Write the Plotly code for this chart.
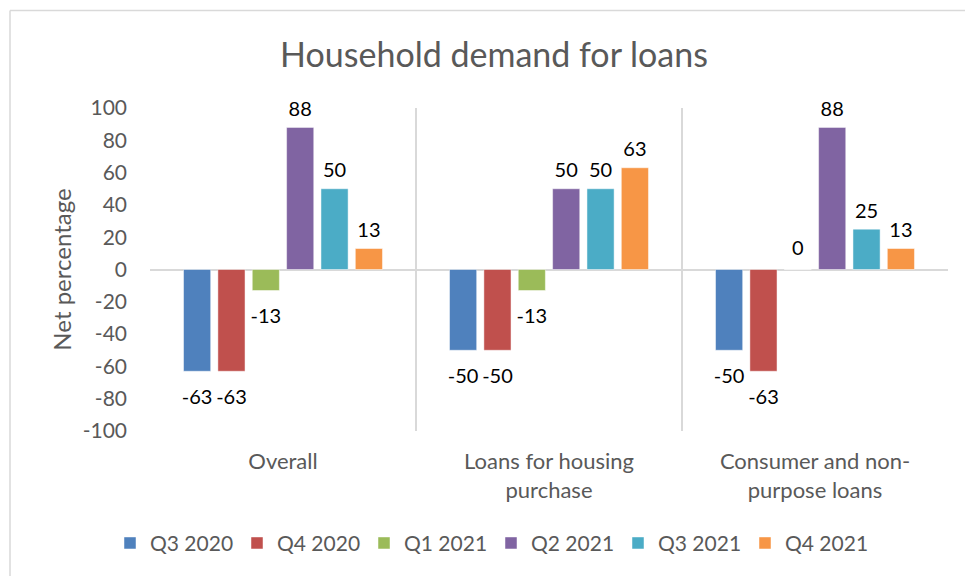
import plotly.graph_objects as go

# Loan categories and net percentages per quarter
categories = ["Overall", "Loans for housing<br>purchase", "Consumer and non-<br>purpose loans"]
quarters = ["Q3 2020", "Q4 2020", "Q1 2021", "Q2 2021", "Q3 2021", "Q4 2021"]
q3_2020 = [-63, -50, -50]
q4_2020 = [-63, -50, -63]
q1_2021 = [-13, -13, 0]
q2_2021 = [88, 50, 88]
q3_2021 = [50, 50, 25]
q4_2021 = [13, 63, 13]
y_ticks = [100, 80, 60, 40, 20, 0, -20, -40, -60, -80, -100]

series = [q3_2020, q4_2020, q1_2021, q2_2021, q3_2021, q4_2021]
colors = ["#4F81BD", "#C0504D", "#9BBB59", "#8064A2", "#4BACC6", "#F79646"]

FONT = "Lato"
GRAY = "#595959"
LINE = "#D9D9D9"
GAP = 0.225


def label_pad(v):
    # invisible marker size used to push the value label off the bar end
    if v < 0:
        return 27
    if v == 0:
        return 14
    return 9


fig = go.Figure()
for i, (name, vals, col) in enumerate(zip(quarters, series, colors)):
    fig.add_trace(go.Bar(
        x=categories, y=vals, name=name,
        offsetgroup=str(i), alignmentgroup="g",
        marker=dict(color=col, line=dict(color="rgba(255,255,255,0.6)", width=0.8)),
    ))
    # value labels, sitting a little away from the bar ends
    fig.add_trace(go.Scatter(
        x=categories, y=vals, mode="markers+text",
        offsetgroup=str(i), alignmentgroup="g",
        text=[str(v) for v in vals],
        textposition=["bottom center" if v < 0 else "top center" for v in vals],
        textfont=dict(family=FONT, size=20, color="#000000"),
        marker=dict(size=[label_pad(v) for v in vals], color="rgba(0,0,0,0)",
                    opacity=0, line=dict(width=0, color="rgba(0,0,0,0)")),
        showlegend=False, hoverinfo="skip", cliponaxis=False,
    ))

W, H = 965, 576
L, R, T, B = 150, 17, 108, 143
pw, ph = W - L - R, H - T - B


def px_x(p):
    return (p - L) / pw


def px_y(p):
    return (H - B - p) / ph


fig.update_layout(
    width=W, height=H,
    margin=dict(l=L, r=R, t=T, b=B),
    paper_bgcolor="white", plot_bgcolor="white",
    barmode="group", bargap=GAP, bargroupgap=0.21,
    scattermode="group", scattergap=GAP,
    font=dict(family=FONT, color=GRAY),
    title=dict(text="Household demand for loans", x=494 / W, xanchor="center",
               y=1 - 55 / H, yanchor="middle",
               font=dict(family=FONT, size=34, color=GRAY)),
    xaxis=dict(
        type="category", range=[-0.5, 2.5], tickson="boundaries",
        showgrid=True, gridcolor=LINE, gridwidth=2,
        ticks="", ticklen=0, showline=False, zeroline=False,
        ticklabelstandoff=15,
        tickfont=dict(family=FONT, size=22, color=GRAY),
    ),
    yaxis=dict(
        range=[-100, 100], tickvals=y_ticks, ticktext=[str(v) for v in y_ticks],
        showgrid=False, zeroline=True, zerolinecolor=LINE, zerolinewidth=2,
        showline=False, ticks="", ticklabelstandoff=22,
        tickfont=dict(family=FONT, size=21, color=GRAY),
        title=dict(text="Net percentage", standoff=4,
                   font=dict(family=FONT, size=24, color=GRAY)),
    ),
    legend=dict(
        orientation="h", x=px_x(491), xanchor="center", y=px_y(546), yanchor="middle",
        font=dict(family=FONT, size=21, color=GRAY),
        entrywidth=82, entrywidthmode="pixels", itemclick=False,
    ),
    showlegend=True,
    shapes=[
        dict(type="line", xref="paper", yref="paper", x0=px_x(10), x1=px_x(W + 5),
             y0=px_y(10), y1=px_y(10), line=dict(color=LINE, width=1.5)),
        dict(type="line", xref="paper", yref="paper", x0=px_x(10), x1=px_x(10),
             y0=px_y(10), y1=px_y(H + 5), line=dict(color=LINE, width=1.5)),
    ],
)

fig.write_html("out.html")
